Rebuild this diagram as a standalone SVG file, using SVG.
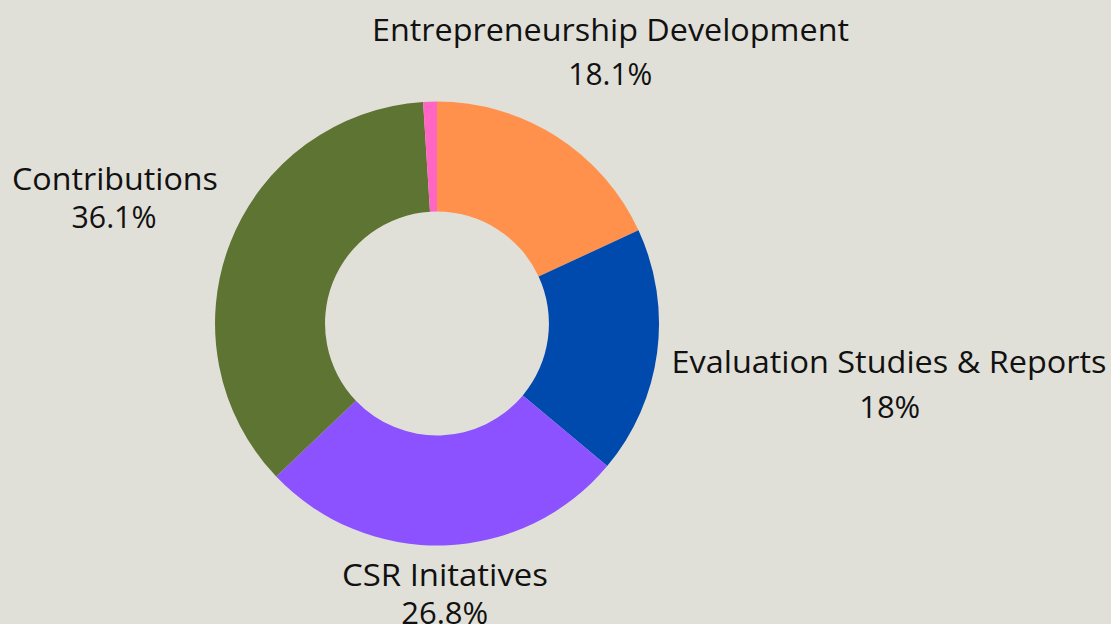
<svg xmlns="http://www.w3.org/2000/svg" width="1111" height="624" viewBox="0 0 1111 624">
<style>
.lbl{font-family:"Open Sans","Liberation Sans",sans-serif;font-size:31px;fill:#111;text-anchor:middle}
</style>
<rect width="1111" height="624" fill="#E1E0D8"/>
<g id="slices">
<g id="orange"><path d="M437,101.5 A222,222 0 0 1 638.5,230.3 L538.6,276.5 A112,112 0 0 0 437,211.5 Z" fill="#FF914D"/></g>
<g id="blue"><path d="M638.5,230.3 A222,222 0 0 1 607.2,466.1 L522.8,395.4 A112,112 0 0 0 538.6,276.5 Z" fill="#004AAD"/></g>
<g id="purple"><path d="M607.2,466.1 A222,222 0 0 1 276.2,476.5 L355.9,400.7 A112,112 0 0 0 522.8,395.4 Z" fill="#8C52FF"/></g>
<g id="green"><path d="M276.2,476.5 A222,222 0 0 1 423.1,101.9 L430.0,211.7 A112,112 0 0 0 355.9,400.7 Z" fill="#5E7433"/></g>
<g id="pink"><path d="M423.1,101.9 A222,222 0 0 1 437,101.5 L437,211.5 A112,112 0 0 0 430.0,211.7 Z" fill="#FF66C4"/></g>
</g>
<g id="labels">
<text class="lbl" x="610.5" y="41" textLength="477" lengthAdjust="spacingAndGlyphs">Entrepreneurship Development</text>
<text class="lbl" x="610.3" y="85" textLength="84" lengthAdjust="spacingAndGlyphs">18.1%</text>
<text class="lbl" x="115" y="190" textLength="206" lengthAdjust="spacingAndGlyphs">Contributions</text>
<text class="lbl" x="114" y="228" textLength="85" lengthAdjust="spacingAndGlyphs">36.1%</text>
<text class="lbl" x="889" y="373" textLength="435" lengthAdjust="spacingAndGlyphs">Evaluation Studies &amp; Reports</text>
<text class="lbl" x="889.7" y="418" textLength="61" lengthAdjust="spacingAndGlyphs">18%</text>
<text class="lbl" x="445" y="586" textLength="206" lengthAdjust="spacingAndGlyphs">CSR Initatives</text>
<text class="lbl" x="444.7" y="624" textLength="87" lengthAdjust="spacingAndGlyphs">26.8%</text>
</g>
</svg>
